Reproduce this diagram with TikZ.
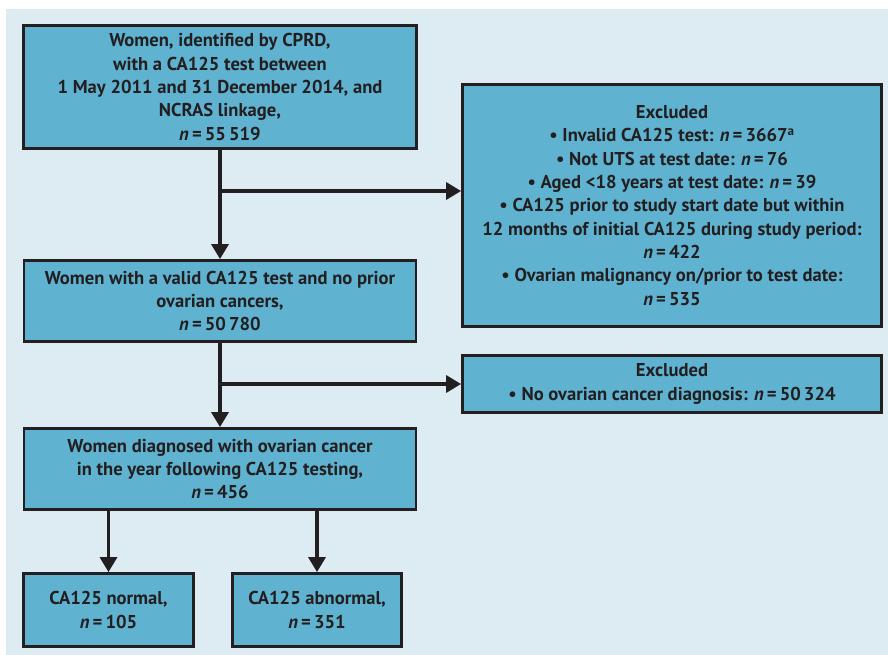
\documentclass[tikz,border=0pt]{standalone}
\usepackage{fontspec}
\setmainfont{PT Sans}
\usetikzlibrary{arrows.meta}
\definecolor{panel}{HTML}{DDEBF2}
\definecolor{boxfill}{HTML}{5FB3D1}
\definecolor{ink}{HTML}{231F20}
\newcommand{\nn}{\textit{n}\,=\,}
\tikzset{
  fbox/.style={draw=ink, line width=2.8pt, fill=boxfill, text=ink, align=center,
    inner sep=0pt, font=\fontsize{18.6}{23.3}\selectfont\bfseries},
  flow/.style={draw=ink, line width=3.2pt, -{Triangle[length=15pt,width=17pt]}},
}
\begin{document}
\begin{tikzpicture}[x=1pt,y=-1pt]
\useasboundingbox (0,0) rectangle (888,655);
\fill[white] (0,0) rectangle (888,655);
\fill[panel] (6,9) rectangle (888,655);

\node[fbox, minimum width=393pt, minimum height=123pt] (b1) at (220,87)
  {Women, identified by CPRD,\\with a CA125 test between\\1 May 2011 and 31 December 2014, and\\NCRAS linkage,\\\nn 55\,519};
\node[fbox, minimum width=419pt, minimum height=242pt] (e1) at (672,205.5)
  {Excluded\\\textbullet\ Invalid CA125 test: \nn 3667\textsuperscript{a}\\\textbullet\ Not UTS at test date: \nn 76\\\textbullet\ Aged <18 years at test date: \nn 39\\\textbullet\ CA125 prior to study start date but within\\12 months of initial CA125 during study period:\\\nn 422\\\textbullet\ Ovarian malignancy on/prior to test date:\\\nn 535};
\node[fbox, minimum width=392pt, minimum height=81pt] (b2) at (220,301)
  {Women with a valid CA125 test and no prior\\ovarian cancers,\\\nn 50\,780};
\node[fbox, minimum width=419pt, minimum height=57pt] (e2) at (672,384)
  {Excluded\\\textbullet\ No ovarian cancer diagnosis: \nn 50\,324};
\node[fbox, minimum width=392pt, minimum height=81pt] (b3) at (220,469)
  {Women diagnosed with ovarian cancer\\in the year following CA125 testing,\\\nn 456};
\node[fbox, minimum width=170pt, minimum height=73pt] (b4) at (108.5,610)
  {CA125 normal,\\\nn 105};
\node[fbox, minimum width=169pt, minimum height=73pt] (b5) at (317,610)
  {CA125 abnormal,\\\nn 351};

\coordinate (j1) at (220,191);
\coordinate (j2) at (220,384);
\draw[flow] (b1.south) -- (b2.north);
\draw[flow] (j1) -- (e1.west |- j1);
\draw[flow] (b2.south) -- (b3.north);
\draw[flow] (j2) -- (e2.west);
\draw[flow] (b3.south -| b4.north) -- (b4.north);
\draw[flow] (b3.south -| b5.north) -- (b5.north);
\end{tikzpicture}
\end{document}
